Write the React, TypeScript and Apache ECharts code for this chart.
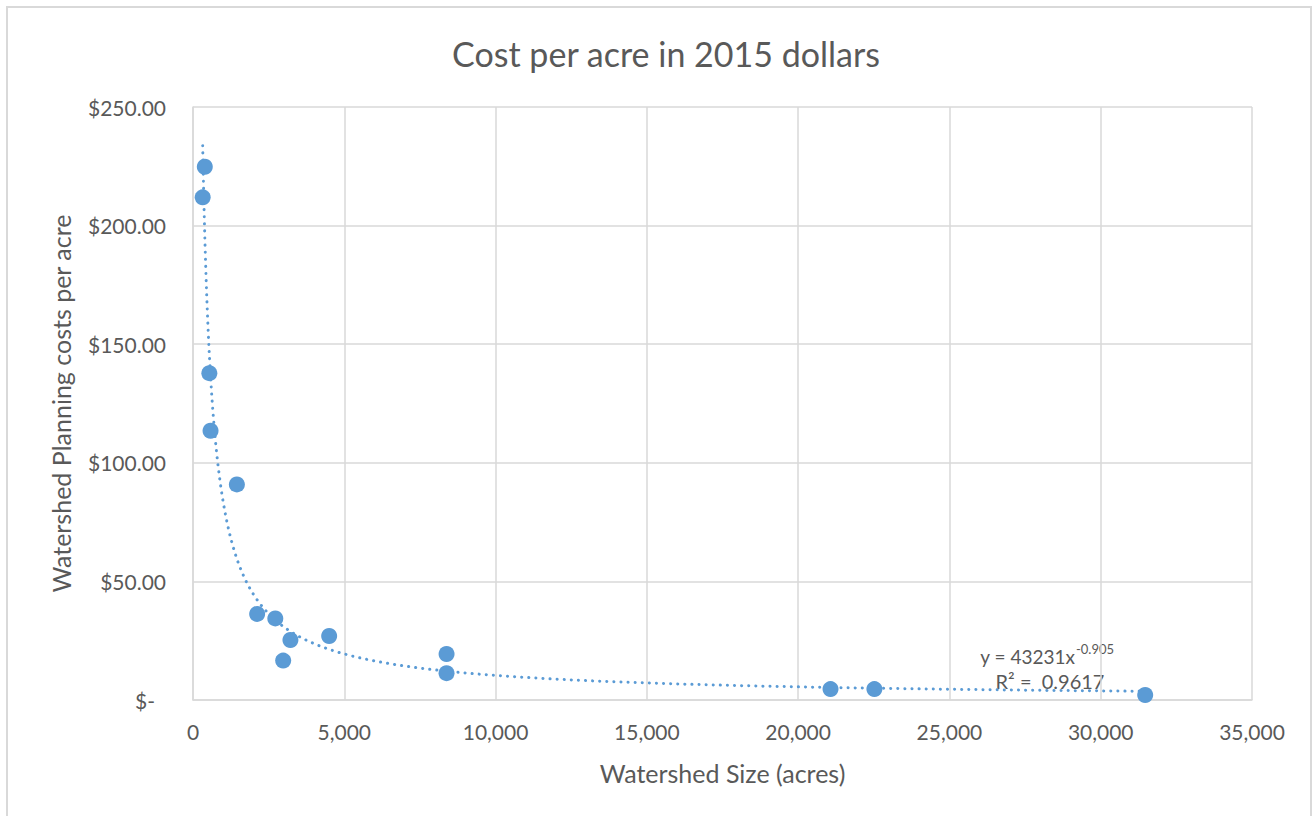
import React, { useEffect, useRef } from "react";
import * as echarts from "echarts";

// Watershed size (acres) and planning cost per acre (2015 dollars)
const watershedSize = [390, 320, 540, 580, 1450, 2120, 2720, 3220, 2980, 4500, 8380, 8380, 21070, 22520, 31470];
const costPerAcre = [224.8, 211.9, 137.8, 113.5, 90.9, 36.3, 34.4, 25.3, 16.6, 27.0, 19.4, 11.3, 4.6, 4.6, 2.1];

// Power trendline shown on the chart: y = 43231 x^-0.905, R² = 0.9617
const trendCoef = 43231;
const trendExp = -0.905;
const trendR2 = "0.9617";

const yTicks = [0, 50, 100, 150, 200, 250];
const xTicks = [0, 5000, 10000, 15000, 20000, 25000, 30000, 35000];

const FONT = "Lato";
const TEXT = "#595959";
const BLUE = "#5B9BD5";
const GRIDC = "#D9D9D9";

export default function App() {
  const ref = useRef<HTMLDivElement>(null);
  useEffect(() => {
    if (!ref.current) return;
    const chart = echarts.init(ref.current, null, { renderer: "svg" });
    const xmin = Math.min(...watershedSize);
    const xmax = Math.max(...watershedSize);
    const trend: number[][] = [];
    const steps = 400;
    for (let i = 0; i <= steps; i++) {
      const x = xmin * Math.pow(xmax / xmin, i / steps);
      trend.push([x, trendCoef * Math.pow(x, trendExp)]);
    }
    const pts = watershedSize.map((x, i) => [x, costPerAcre[i]]);
    chart.setOption({
      animation: false,
      backgroundColor: "#fff",
      textStyle: { fontFamily: FONT },
      title: {
        text: "Cost per acre in 2015 dollars",
        left: 661,
        textAlign: "center",
        top: 31,
        textStyle: { fontFamily: FONT, fontSize: 34, fontWeight: "normal", color: TEXT },
      },
      grid: { left: 193, top: 107, width: 1059, height: 593, containLabel: false },
      xAxis: {
        type: "value",
        min: xTicks[0],
        max: xTicks[xTicks.length - 1],
        interval: 5000,
        name: "Watershed Size (acres)",
        nameLocation: "middle",
        nameGap: 60,
        nameTextStyle: { fontFamily: FONT, fontSize: 25, color: TEXT },
        axisLine: { show: true, lineStyle: { color: GRIDC, width: 1.5 } },
        axisTick: { show: false },
        axisLabel: {
          fontFamily: FONT,
          fontSize: 21,
          color: TEXT,
          margin: 21,
          formatter: (v: number) => v.toLocaleString("en-US"),
        },
        splitLine: { show: true, lineStyle: { color: GRIDC, width: 1.5 } },
      },
      yAxis: {
        type: "value",
        min: yTicks[0],
        max: yTicks[yTicks.length - 1],
        interval: 50,
        name: "Watershed Planning costs per acre",
        nameLocation: "middle",
        nameGap: 120,
        nameTextStyle: { fontFamily: FONT, fontSize: 25, color: TEXT },
        axisLine: { show: true, lineStyle: { color: GRIDC, width: 1.5 } },
        axisTick: { show: false },
        axisLabel: {
          fontFamily: FONT,
          fontSize: 21,
          color: TEXT,
          margin: 27,
          formatter: (v: number) => (v === 0 ? "{d|$-}" : "$" + v.toFixed(2)),
          rich: { d: { fontFamily: FONT, fontSize: 21, color: TEXT, padding: [0, 11, 0, 0] } },
        },
        splitLine: { show: true, lineStyle: { color: GRIDC, width: 1.5 } },
      },
      graphic: [
        {
          type: "rect",
          shape: { x: 7, y: 7, width: 1304, height: 840 },
          style: { fill: "none", stroke: GRIDC, lineWidth: 2 },
          silent: true,
        },
        {
          type: "text",
          x: 1075,
          y: 656,
          style: {
            text: "y = " + trendCoef + "x",
            fontFamily: FONT,
            fontSize: 19,
            fill: TEXT,
            align: "right",
            verticalAlign: "middle",
          },
        },
        {
          type: "text",
          x: 1076,
          y: 649,
          style: {
            text: String(trendExp),
            fontFamily: FONT,
            fontSize: 13,
            fill: TEXT,
            align: "left",
            verticalAlign: "middle",
          },
        },
        {
          type: "text",
          x: 1050,
          y: 681,
          style: {
            text: "R² =  " + trendR2,
            fontFamily: FONT,
            fontSize: 20,
            fill: TEXT,
            align: "center",
            verticalAlign: "middle",
          },
        },
      ],
      series: [
        {
          type: "line",
          data: trend,
          showSymbol: false,
          symbol: "none",
          clip: true,
          smooth: false,
          lineStyle: { color: BLUE, width: 3, type: [0.1, 7], cap: "round" },
          z: 1,
          silent: true,
        },
        {
          type: "scatter",
          data: pts,
          symbol: "circle",
          symbolSize: 16,
          itemStyle: { color: BLUE, opacity: 1 },
          z: 2,
        },
      ],
    });
    return () => chart.dispose();
  }, []);
  return (
    <div
      ref={ref}
      style={{ position: "absolute", left: 0, top: 0, width: 1315, height: 816, background: "#fff" }}
    />
  );
}
